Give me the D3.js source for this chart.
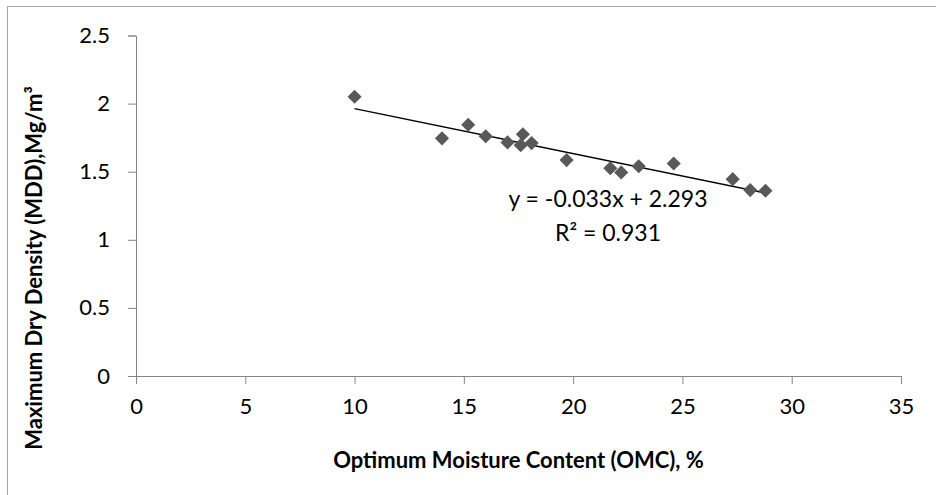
<!DOCTYPE html>
<html>
<head>
    <title>OMC vs MDD</title>
    <script src="https://d3js.org/d3.v7.min.js"></script>
    <style>
        body { margin: 0; background: #fff; }
        .tick text { font: 22px Lato, sans-serif; fill: #000; }
        .axis-title { font: bold 22px Lato, sans-serif; fill: #000; }
        .eq { font: 23px Lato, sans-serif; fill: #000; }
    </style>
</head>
<body>
<script>
    var width = 936, height = 495;

    // Optimum moisture content (%)
    var omc = [10.0, 14.0, 15.2, 16.0, 17.0, 17.6, 17.7, 18.1, 19.7, 21.7, 22.2, 23.0, 24.6, 27.3, 28.1, 28.8];
    // Maximum dry density (Mg/m3)
    var mdd = [2.05, 1.745, 1.845, 1.76, 1.715, 1.695, 1.775, 1.71, 1.585, 1.525, 1.495, 1.54, 1.56, 1.445, 1.365, 1.36];

    var xTicks = [0, 5, 10, 15, 20, 25, 30, 35];
    var yTicks = [0, 0.5, 1, 1.5, 2, 2.5];

    // linear trendline shown on the chart
    var slope = -0.033, intercept = 2.293, r2 = 0.931;

    var margin = {left: 136, right: 35, top: 35.5, bottom: 119};

    var svg = d3.select("body").append("svg")
        .attr("width", width)
        .attr("height", height);

    // chart border (runs off the right / bottom of the picture)
    svg.append("rect")
        .attr("x", 7.5).attr("y", 6.5)
        .attr("width", width).attr("height", height)
        .attr("fill", "none")
        .attr("stroke", "#a6a6a6");

    var x = d3.scaleLinear().domain([0, 35]).range([margin.left, width - margin.right]);
    var y = d3.scaleLinear().domain([0, 2.5]).range([height - margin.bottom, margin.top]);

    var xAxis = svg.append("g")
        .attr("transform", "translate(0," + y(0) + ")")
        .call(d3.axisBottom(x).tickValues(xTicks).tickSize(8).tickPadding(14).tickFormat(d3.format("")));

    var yAxis = svg.append("g")
        .attr("transform", "translate(" + x(0) + ",0)")
        .call(d3.axisLeft(y).tickValues(yTicks).tickSize(8).tickPadding(18).tickFormat(function(d) { return String(d); }));

    [xAxis, yAxis].forEach(function(a) {
        a.attr("font-family", null).attr("font-size", null);
        a.select(".domain").attr("stroke", "#868686");
        a.selectAll(".tick line").attr("stroke", "#868686");
    });

    // trendline
    var x0 = d3.min(omc), x1 = d3.max(omc);
    svg.append("line")
        .attr("x1", x(x0)).attr("y1", y(slope * x0 + intercept))
        .attr("x2", x(x1)).attr("y2", y(slope * x1 + intercept))
        .attr("stroke", "#000")
        .attr("stroke-width", 1.5);

    // diamond markers
    var points = omc.map(function(d, i) { return {x: d, y: mdd[i]}; });
    svg.append("g")
        .selectAll("rect")
        .data(points)
        .enter().append("rect")
        .attr("x", -5).attr("y", -5)
        .attr("width", 10).attr("height", 10)
        .attr("fill", "#595959")
        .attr("transform", function(d) { return "translate(" + x(d.x) + "," + y(d.y) + ") rotate(45)"; });

    // equation label
    svg.append("text")
        .attr("class", "eq")
        .attr("x", 608).attr("y", 207)
        .attr("text-anchor", "middle")
        .text("y = " + slope.toFixed(3) + "x + " + intercept.toFixed(3));
    svg.append("text")
        .attr("class", "eq")
        .attr("x", 608).attr("y", 241)
        .attr("text-anchor", "middle")
        .text("R\u00b2 = " + r2.toFixed(3));

    // axis titles
    svg.append("text")
        .attr("class", "axis-title")
        .attr("x", (x(0) + x(35)) / 2)
        .attr("y", 468)
        .attr("text-anchor", "middle")
        .text("Optimum Moisture Content (OMC), %");

    svg.append("text")
        .attr("class", "axis-title")
        .attr("transform", "translate(42,268) rotate(-90)")
        .attr("text-anchor", "middle")
        .text("Maximum Dry Density (MDD),Mg/m\u00b3");
</script>
</body>
</html>
